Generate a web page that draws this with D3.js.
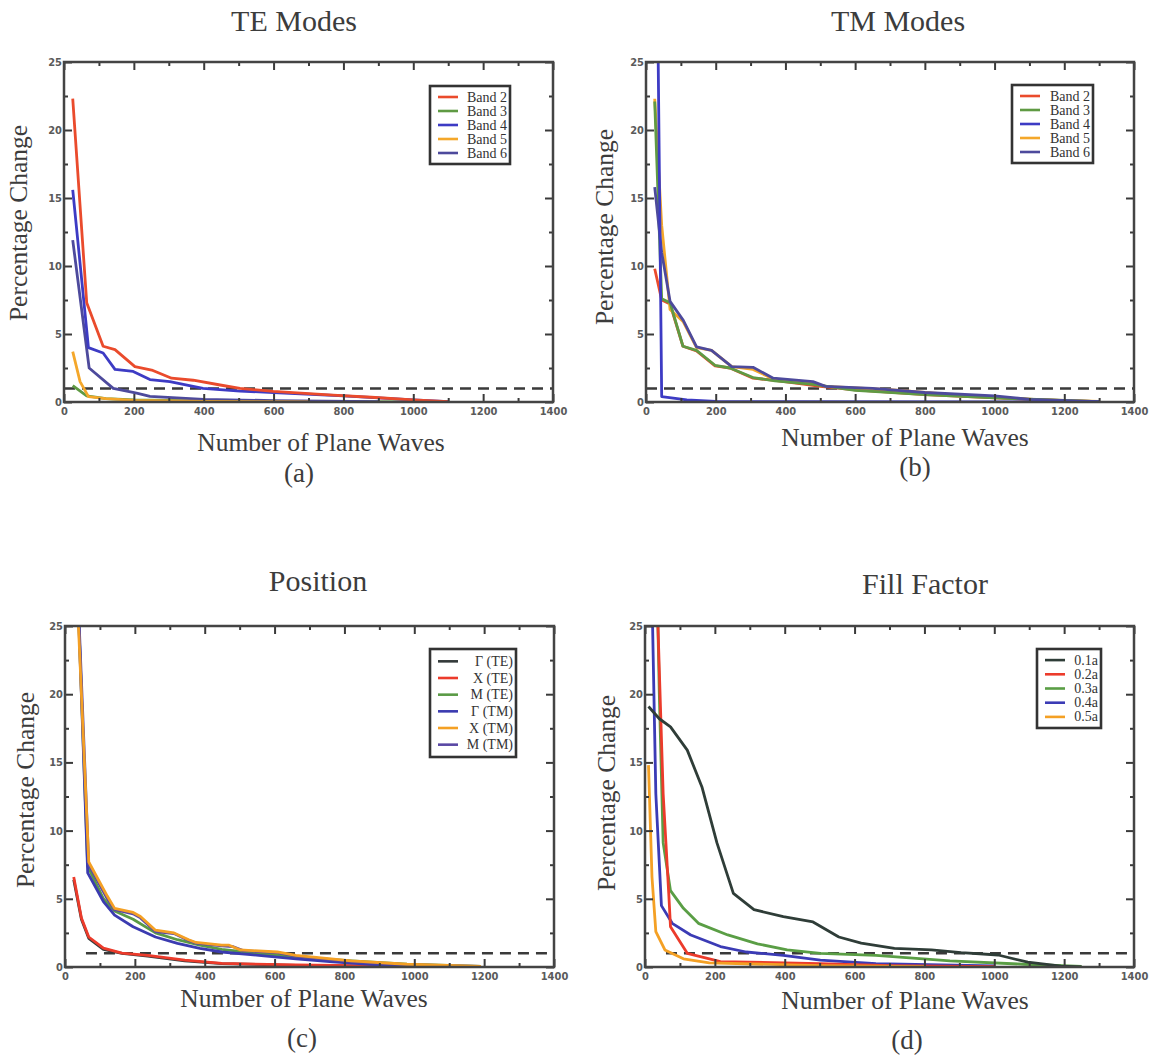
<!DOCTYPE html>
<html><head><meta charset="utf-8">
<script src="https://cdn.jsdelivr.net/npm/d3@7"></script>
<style>
body{margin:0;background:#fff;}
svg{display:block;}
</style></head>
<body>
<svg id="chart" width="1160" height="1064"></svg>
<script>
// ---------- data ----------
const xTicks = [0,200,400,600,800,1000,1200,1400];
const yTicks = [0,5,10,15,20,25];
const threshold = 1;

// (a) TE Modes
const teBand2 = [[25,22.3],[65,7.3],[112,4.1],[146,3.85],[203,2.6],[251,2.35],[308,1.75],[370,1.6],[447,1.25],[504,1.0],[599,0.78],[770,0.5],[880,0.35],[1000,0.15],[1100,0.02]];
const teBand3 = [[25,1.2],[65,0.45],[120,0.25],[200,0.15],[400,0.08],[700,0.03],[1100,0.0]];
const teBand4 = [[25,15.6],[70,4.0],[112,3.6],[146,2.4],[198,2.25],[246,1.65],[303,1.5],[398,1.0],[504,0.8],[600,0.7],[800,0.45],[1000,0.15],[1100,0.02]];
const teBand5 = [[25,3.7],[46,1.5],[70,0.4],[120,0.25],[200,0.12],[300,0.08],[400,0.04],[700,0.01]];
const teBand6 = [[25,11.9],[72,2.5],[141,1.0],[208,0.65],[246,0.42],[400,0.2],[600,0.1],[900,0.03]];

// (b) TM Modes
const tmBand2 = [[25,9.8],[45,7.5],[69,7.2],[106,4.1],[145,3.75],[198,2.65],[241,2.5],[307,1.75],[370,1.6],[500,1.15],[600,0.9],[800,0.55],[1000,0.3],[1200,0.1],[1300,0.02]];
const tmBand3 = [[25,22.1],[45,7.6],[69,7.3],[106,4.1],[145,3.8],[198,2.7],[241,2.5],[307,1.8],[370,1.55],[480,1.3],[600,0.85],[800,0.55],[1000,0.3],[1200,0.12],[1300,0.03]];
const tmBand4 = [[33,30],[45,0.4],[117,0.15],[200,0.05],[400,0.02],[1300,0.0]];
const tmBand5 = [[25,22.3],[45,13],[69,6.8],[107,5.9],[145,4.0],[188,3.8],[246,2.6],[307,2.4],[365,1.7],[479,1.4],[515,1.15],[700,0.9],[900,0.5],[1100,0.2],[1300,0.05]];
const tmBand6 = [[25,15.8],[45,11],[69,7.4],[107,6.0],[145,4.05],[188,3.8],[246,2.6],[307,2.55],[365,1.75],[479,1.5],[515,1.15],[650,1.0],[800,0.7],[1000,0.45],[1100,0.2],[1300,0.02]];

// (c) Position
const posGammaTE = [[25,6.4],[47,3.5],[68,2.1],[110,1.3],[163,1.0],[237,0.8],[343,0.45],[449,0.25],[661,0.12],[900,0.04]];
const posXTE = [[25,6.6],[47,3.6],[68,2.2],[110,1.38],[163,1.02],[237,0.85],[343,0.5],[449,0.27],[661,0.15],[1000,0.05]];
const posMTE = [[33,30],[65,7.4],[110,5.0],[142,4.1],[195,3.5],[259,2.5],[322,2.0],[386,1.6],[449,1.3],[555,1.0],[661,0.75],[820,0.45],[979,0.2],[1191,0.05]];
const posGammaTM = [[33,30],[65,6.9],[110,4.8],[142,3.8],[195,2.95],[259,2.2],[322,1.73],[386,1.37],[449,1.1],[555,0.85],[661,0.6],[767,0.37],[873,0.2],[979,0.05]];
const posXTM = [[30,30],[68,7.7],[121,5.2],[142,4.3],[195,4.0],[216,3.7],[259,2.7],[312,2.5],[354,2.0],[375,1.8],[449,1.6],[470,1.6],[502,1.25],[608,1.1],[661,0.85],[820,0.45],[979,0.2],[1191,0.05]];
const posMTM = [[33,30],[68,7.5],[121,5.0],[142,4.2],[195,3.9],[216,3.6],[259,2.6],[312,2.45],[354,1.95],[375,1.75],[449,1.55],[480,1.5],[510,1.2],[608,1.05],[661,0.8],[820,0.4],[979,0.18],[1191,0.04]];

// (d) Fill Factor
const ff01 = [[10,19.1],[41,18.2],[73,17.6],[121,15.9],[163,13.2],[206,9.1],[253,5.4],[312,4.2],[396,3.7],[481,3.3],[555,2.2],[619,1.75],[714,1.37],[820,1.25],[905,1.05],[1011,0.88],[1096,0.35],[1191,0.06],[1250,0.0]];
const ff02 = [[31,30],[52,12.7],[68,5.4],[73,2.95],[121,1.0],[216,0.4],[500,0.25],[700,0.1],[1000,0.02]];
const ff03 = [[33,30],[41,20],[52,9.1],[73,5.6],[110,4.3],[153,3.2],[237,2.35],[322,1.7],[407,1.25],[502,1.0],[661,0.85],[873,0.45],[1085,0.2],[1250,0.05]];
const ff04 = [[18,30],[31,12.7],[47,4.5],[78,3.2],[131,2.35],[216,1.5],[290,1.1],[396,0.85],[502,0.5],[661,0.25],[1000,0.08]];
const ff05 = [[10,14.8],[20,6.6],[31,2.6],[57,1.25],[110,0.6],[184,0.3],[500,0.1],[800,0.02]];

const teNames = ["Band 2","Band 3","Band 4","Band 5","Band 6"];
const posNames = ["\u0393 (TE)","X (TE)","M (TE)","\u0393  (TM)","X (TM)","M (TM)"];
const ffNames = ["0.1a","0.2a","0.3a","0.4a","0.5a"];

const bandColors = ["#ea4b2c","#5f9a43","#3d3bc4","#f4a72a","#4d4a9c"];
const posColors = ["#333a3a","#ec3b2b","#5a9a45","#3b3bb0","#f4a024","#5a48a4"];
const ffColors = ["#2f3d38","#ec3b2b","#5a9e45","#3b3bb5","#f4a024"];

// ---------- drawing ----------
const svg = d3.select("#chart");
const serif = "'Liberation Serif','Times New Roman',serif";
const ink = "#3c3c3c";

const panels = [
  {id:"a", box:[64,553,62,402], title:"TE Modes", tpos:[294,31], xl:[321,451], lab:[299,482], yl:[27,223],
   series:[teBand2,teBand3,teBand4,teBand5,teBand6], names:teNames, colors:bandColors,
   drawOrder:[1,4,2,3,0], legend:[430,510,86,164], dash:[0,1400]},
  {id:"b", box:[646,1134,62,402], title:"TM Modes", tpos:[898,31], xl:[905,446], lab:[915,476], yl:[613,227],
   series:[tmBand2,tmBand3,tmBand4,tmBand5,tmBand6], names:teNames, colors:bandColors,
   drawOrder:[0,3,1,4,2], legend:[1012,1093,85,163], dash:[0,1400]},
  {id:"c", box:[65,554,626,967], title:"Position", tpos:[318,591], xl:[304,1007], lab:[302,1047], yl:[34,790],
   series:[posGammaTE,posXTE,posMTE,posGammaTM,posXTM,posMTM], names:posNames, colors:posColors,
   drawOrder:[0,1,2,3,5,4], legend:[430,516,649,757], dash:[60,1400]},
  {id:"d", box:[645,1134,626,967], title:"Fill Factor", tpos:[925,594], xl:[905,1009], lab:[907,1049], yl:[615,793],
   series:[ff01,ff02,ff03,ff04,ff05], names:ffNames, colors:ffColors,
   drawOrder:[2,3,1,4,0], legend:[1037,1101,649,728], dash:[60,1400]}
];

panels.forEach(p => {
  const [L,R,T,B] = p.box;
  const x = d3.scaleLinear().domain([0,1400]).range([L,R]);
  const y = d3.scaleLinear().domain([0,25]).range([B,T]);
  const g = svg.append("g");

  // titles / labels
  g.append("text").attr("x",p.tpos[0]).attr("y",p.tpos[1]).attr("text-anchor","middle")
    .attr("font-family",serif).attr("font-size",30).attr("fill",ink).text(p.title);
  g.append("text").attr("x",p.xl[0]).attr("y",p.xl[1]).attr("text-anchor","middle")
    .attr("font-family",serif).attr("font-size",25.5).attr("fill",ink).text("Number of Plane Waves");
  g.append("text").attr("x",p.lab[0]).attr("y",p.lab[1]).attr("text-anchor","middle")
    .attr("font-family",serif).attr("font-size",27).attr("fill",ink).text("("+p.id+")");
  g.append("text").attr("transform",`translate(${p.yl[0]},${p.yl[1]}) rotate(-90)`).attr("text-anchor","middle")
    .attr("font-family",serif).attr("font-size",25.5).attr("fill",ink).text("Percentage Change");

  // clip
  const cid = "clip"+p.id;
  svg.append("clipPath").attr("id",cid).append("rect").attr("x",L).attr("y",T).attr("width",R-L).attr("height",B-T);

  // dashed 1% line
  g.append("line").attr("x1",x(p.dash[0])).attr("x2",x(p.dash[1])).attr("y1",y(threshold)).attr("y2",y(threshold))
    .attr("stroke","#3a3a3a").attr("stroke-width",2.5).attr("stroke-dasharray","11,7");

  // curves
  const line = d3.line().x(d=>x(d[0])).y(d=>y(d[1]));
  const cg = g.append("g").attr("clip-path",`url(#${cid})`);
  p.drawOrder.forEach(i => {
    cg.append("path").datum(p.series[i]).attr("d",line).attr("fill","none")
      .attr("stroke",p.colors[i]).attr("stroke-width",2.8).attr("stroke-linejoin","round");
  });

  // axes (ticks inside, mirrored)
  const tickStyle = sel => {
    sel.select(".domain").remove();
    sel.selectAll(".tick line").attr("stroke","#3a3a3a").attr("stroke-width",2);
    sel.selectAll(".tick text").attr("font-family","'DejaVu Sans Condensed','DejaVu Sans',sans-serif")
      .attr("font-size",11).attr("font-weight","bold").attr("fill","#5a5a5a");
  };
  const xMinor = d3.range(100,1400,200);
  const yMinor = [2.5,7.5,12.5,17.5,22.5];
  // bottom
  g.append("g").attr("transform",`translate(0,${B})`)
    .call(d3.axisBottom(x).tickValues(xTicks).tickSize(-8).tickPadding(5).tickFormat(d3.format("d"))).call(tickStyle);
  g.append("g").attr("transform",`translate(0,${B})`)
    .call(d3.axisBottom(x).tickValues(xMinor).tickSize(-4).tickFormat("")).call(tickStyle);
  // top
  g.append("g").attr("transform",`translate(0,${T})`)
    .call(d3.axisTop(x).tickValues(xTicks).tickSize(-8).tickFormat("")).call(tickStyle);
  g.append("g").attr("transform",`translate(0,${T})`)
    .call(d3.axisTop(x).tickValues(xMinor).tickSize(-4).tickFormat("")).call(tickStyle);
  // left
  g.append("g").attr("transform",`translate(${L},0)`)
    .call(d3.axisLeft(y).tickValues(yTicks).tickSize(-8).tickPadding(2).tickFormat(d3.format("d"))).call(tickStyle);
  g.append("g").attr("transform",`translate(${L},0)`)
    .call(d3.axisLeft(y).tickValues(yMinor).tickSize(-4).tickFormat("")).call(tickStyle);
  // right
  g.append("g").attr("transform",`translate(${R},0)`)
    .call(d3.axisRight(y).tickValues(yTicks).tickSize(-8).tickFormat("")).call(tickStyle);
  g.append("g").attr("transform",`translate(${R},0)`)
    .call(d3.axisRight(y).tickValues(yMinor).tickSize(-4).tickFormat("")).call(tickStyle);

  // frame
  g.append("rect").attr("x",L).attr("y",T).attr("width",R-L).attr("height",B-T)
    .attr("fill","none").attr("stroke","#444").attr("stroke-width",2.5);

  // legend
  const [lx0,lx1,ly0,ly1] = p.legend;
  const n = p.names.length;
  const lg = g.append("g");
  lg.append("rect").attr("x",lx0).attr("y",ly0).attr("width",lx1-lx0).attr("height",ly1-ly0)
    .attr("fill","#fff").attr("stroke","#333").attr("stroke-width",2.6);
  const step = (ly1-ly0-8)/n;
  p.names.forEach((nm,i) => {
    const yy = ly0 + 4 + step*(i+0.5);
    lg.append("line").attr("x1",lx0+8).attr("x2",lx0+28).attr("y1",yy).attr("y2",yy)
      .attr("stroke",p.colors[i]).attr("stroke-width",2.6);
    lg.append("text").attr("x",lx1-3).attr("y",yy+4.5).attr("text-anchor","end")
      .attr("font-family",serif).attr("font-size",14).attr("fill","#333").text(nm);
  });
});
</script>
</body></html>
